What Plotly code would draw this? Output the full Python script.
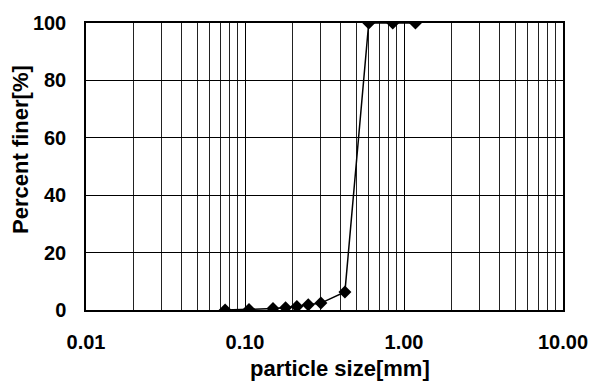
import plotly.graph_objects as go

particle_size = [0.075, 0.106, 0.15, 0.18, 0.212, 0.25, 0.3, 0.425, 0.6, 0.85, 1.18]
percent_finer = [0.0, 0.2, 0.5, 0.8, 1.2, 1.8, 2.4, 6.3, 100, 100, 100]

x_tick_vals = [0.01, 0.1, 1, 10]
x_tick_text = ["0.01", "0.10", "1.00", "10.00"]
x_minor_vals = [m * d for d in [0.01, 0.1, 1] for m in range(2, 10)]
y_tick_vals = [0, 20, 40, 60, 80, 100]

FONT = "Liberation Sans, Arial, sans-serif"

fig = go.Figure()
fig.add_trace(go.Scatter(
    x=particle_size, y=percent_finer, mode="lines+markers",
    line=dict(color="black", width=1.5),
    marker=dict(symbol="diamond", size=10, color="black"),
    showlegend=False,
))

fig.update_layout(
    width=600, height=383,
    margin=dict(l=86, r=27, t=15, b=73),
    paper_bgcolor="white", plot_bgcolor="white",
    font=dict(family=FONT, color="black"),
    xaxis=dict(
        type="log", range=[-2, 1],
        tickvals=x_tick_vals, ticktext=x_tick_text,
        tickfont=dict(size=20, family=FONT, weight="bold"),
        ticks="outside", ticklen=13, tickcolor="rgba(0,0,0,0)",
        showgrid=True, gridcolor="black", gridwidth=1,
        minor=dict(tickvals=x_minor_vals, showgrid=True, gridcolor="#222", gridwidth=1, ticks=""),
        showline=True, linecolor="black", linewidth=1.5, mirror=True,
        zeroline=False,
    ),
    yaxis=dict(
        range=[0, 100],
        tickvals=y_tick_vals,
        tickfont=dict(size=20, family=FONT, weight="bold"),
        ticks="outside", ticklen=14, tickcolor="rgba(0,0,0,0)",
        showgrid=True, gridcolor="black", gridwidth=1,
        showline=True, linecolor="black", linewidth=1.5, mirror=True,
        zeroline=False,
    ),
    annotations=[
        dict(text="particle size[mm]", xref="paper", yref="paper", x=0.532, y=-0.203,
             xanchor="center", yanchor="middle", showarrow=False,
             font=dict(size=22, family=FONT, weight="bold")),
        dict(text="Percent finer[%]", xref="paper", yref="paper", x=-0.1376, y=0.559,
             xanchor="center", yanchor="middle", showarrow=False, textangle=-90,
             font=dict(size=22, family=FONT, weight="bold")),
    ],
)

fig.write_html("out.html")
